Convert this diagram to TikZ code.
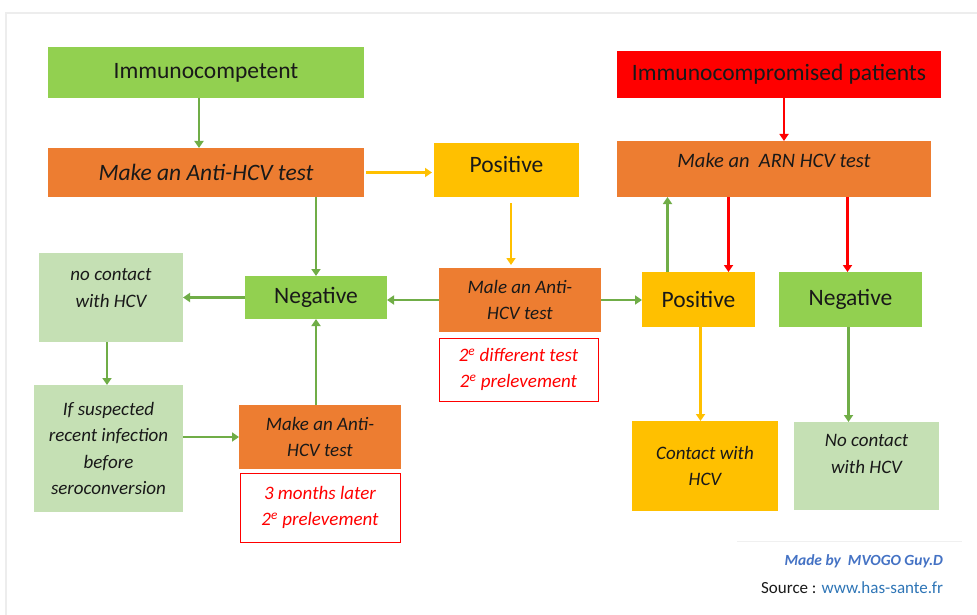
\documentclass[tikz,border=0pt]{standalone}
\usepackage{fontspec}
\setmainfont{Carlito}
\usetikzlibrary{arrows.meta}
\definecolor{cgreen}{HTML}{92D050}
\definecolor{corange}{HTML}{ED7D31}
\definecolor{cyellow}{HTML}{FFC000}
\definecolor{cred}{HTML}{FF0000}
\definecolor{clight}{HTML}{C5E0B4}
\definecolor{carrow}{HTML}{70AD47}
\definecolor{cblue}{HTML}{4472C4}
\definecolor{clink}{HTML}{2E75B6}

\begin{document}
\begin{tikzpicture}[x=1pt,y=-1pt,
  every node/.style={inner sep=0pt, outer sep=0pt, align=center, text=black!90},
  big/.style={font=\fontsize{23.5}{28}\selectfont},
  bigit/.style={font=\fontsize{23.5}{28}\selectfont\itshape},
  small/.style={font=\fontsize{19}{26.5}\selectfont\itshape},
  redbox/.style={draw=cred, line width=1pt, text=cred, small},
  garrow/.style={draw=carrow, line width=2.4pt, -{Triangle[width=9pt,length=7pt]}},
  yarrow/.style={draw=cyellow, line width=2.4pt, -{Triangle[width=9pt,length=7pt]}},
  rarrow/.style={draw=cred, line width=2.4pt, -{Triangle[width=9pt,length=7pt]}}]
\useasboundingbox (0,0) rectangle (977,615);
\draw[black!7, line width=1.5pt] (6,615) -- (6,13) -- (977,13);

\node[fill=cgreen, minimum width=316, minimum height=51, big] (immc) at (206,72.5) {Immunocompetent};
\node[fill=corange, minimum width=316, minimum height=49, bigit] (antihcv) at (206,172.5) {Make an Anti-HCV test};
\node[fill=cyellow, minimum width=145, minimum height=54, big, text depth=12pt] (posA) at (506.5,170) {Positive};
\node[fill=cred, minimum width=324, minimum height=47, big] (immcomp) at (779,74.5) {Immunocompromised patients};
\node[fill=corange, minimum width=314, minimum height=56, font=\fontsize{20.5}{26}\selectfont\itshape, text depth=17pt] (arnhcv) at (774,169) {Make an\ \ ARN HCV test};

\node[fill=clight, minimum width=144, minimum height=89, small] (nocA) at (111,297.5) {no contact\\with HCV\\[-7pt]\mbox{}};
\node[fill=cgreen, minimum width=142, minimum height=43, big] (negA) at (316,297.5) {Negative};
\node[fill=corange, minimum width=162, minimum height=64, small] (male) at (520,300) {Male an Anti-\\HCV test};
\node[redbox, minimum width=159, minimum height=63] (redA) at (518.5,369.5) {2\textsuperscript{e} different test\\2\textsuperscript{e} prelevement};
\node[fill=clight, minimum width=149, minimum height=127, small] (susp) at (108.5,448.5) {If suspected\\recent infection\\before\\seroconversion};
\node[fill=corange, minimum width=162, minimum height=64, small] (antiB) at (320,437) {Make an Anti-\\HCV test};
\node[redbox, minimum width=160, minimum height=69] (redB) at (320,507.5) {3 months later\\2\textsuperscript{e} prelevement};

\node[fill=cyellow, minimum width=113, minimum height=55, big] (posB) at (698.5,299.5) {Positive};
\node[fill=cgreen, minimum width=143, minimum height=55, big] (negB) at (850.5,299.5) {Negative};
\node[fill=cyellow, minimum width=146, minimum height=90, small] (contact) at (705,466) {Contact with\\HCV};
\node[fill=clight, minimum width=145, minimum height=88, small] (nocB) at (866.5,466) {No contact\\with HCV\\[-2pt]\mbox{}};

\draw[garrow] ([xshift=-7]immc.south) -- ([xshift=-7]antihcv.north);
\draw[yarrow, shorten <=2pt, shorten >=2pt] (antihcv.east) -- (antihcv.east -| posA.west);
\draw[yarrow, shorten <=6pt, shorten >=3pt] ([xshift=4.5]posA.south) -- ([xshift=4.5]posA.south |- male.north);
\draw[garrow] (antihcv.south -| negA.north) -- (negA.north);
\draw[garrow] (male.west) -- (male.west -| negA.east);
\draw[garrow] (male.east) -- (male.east -| posB.west);
\draw[garrow] (negA.west) -- (negA.west -| nocA.east);
\draw[garrow] ([xshift=-4]nocA.south) -- ([xshift=-4]nocA.south |- susp.north);
\draw[garrow] (antiB.west -| susp.east) -- (antiB.west);
\draw[garrow] ([xshift=-4]antiB.north) -- ([xshift=-4]antiB.north |- negA.south);
\draw[rarrow] ([xshift=5]immcomp.south) -- ([xshift=5]immcomp.south |- arnhcv.north);
\draw[garrow] ([xshift=-31]posB.north) -- ([xshift=-31]posB.north |- arnhcv.south);
\draw[rarrow] ([xshift=30]posB.north |- arnhcv.south) -- ([xshift=30]posB.north);
\draw[rarrow] ([xshift=-3]negB.north |- arnhcv.south) -- ([xshift=-3]negB.north);
\draw[yarrow] ([xshift=2]posB.south) -- ([xshift=2]posB.south |- contact.north);
\draw[garrow] ([xshift=-2]negB.south) -- ([xshift=-2]negB.south |- nocB.north);

\draw[black!6, line width=1pt] (737,541) -- (962,541);
\node[anchor=east, text=cblue, font=\fontsize{15.5}{18}\selectfont\bfseries\itshape] (made) at (943,561) {Made by\ \ MVOGO Guy.D};
\node[anchor=east, font=\fontsize{17}{20}\selectfont] (src) at (943,588) {Source : \textcolor{clink}{www.has-sante.fr}};
\end{tikzpicture}
\end{document}
